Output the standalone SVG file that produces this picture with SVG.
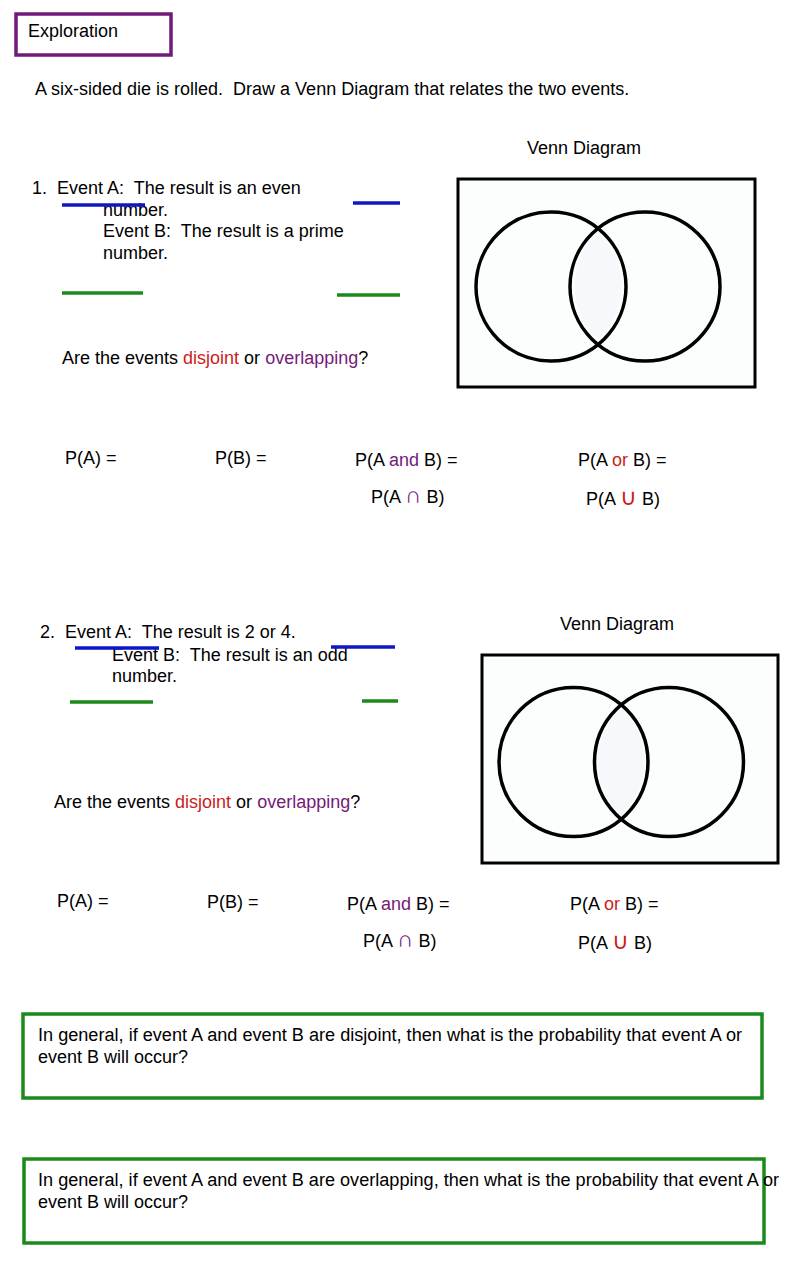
<svg xmlns="http://www.w3.org/2000/svg" width="800" height="1273" viewBox="0 0 800 1273" xml:space="preserve">
<style>
text{font-family:"Liberation Sans",Arial,sans-serif;font-size:18px;fill:#000;white-space:pre}
.red{fill:#cc1b1b}
.pur{fill:#741a78}
.sym{font-size:23px}
.box{fill:#fcfdfd;stroke:#000;stroke-width:3}
.circ{fill:none;stroke:#000;stroke-width:3.5}
.blue{stroke:#0d17c6;stroke-width:3.5}
.green{stroke:#1b8a1b;stroke-width:3.5}
.gbox{fill:#fff;stroke:#1b8a1b;stroke-width:3.5}
</style>
<rect width="800" height="1273" fill="#fff"/>
<g id="title">
<rect x="16" y="14" width="155" height="41" fill="#fff" stroke="#701a7a" stroke-width="3.5"/>
<text x="28" y="37">Exploration</text>
</g>
<g id="intro"><text x="35" y="95">A six-sided die is rolled.  Draw a Venn Diagram that relates the two events.</text></g>

<g id="q1">
<text x="32" y="194">1.  Event A:  The result is an even</text>
<text x="103" y="216">number.</text>
<text x="103" y="237">Event B:  The result is a prime</text>
<text x="103" y="259">number.</text>
<text x="62" y="364">Are the events <tspan class="red">disjoint</tspan> or <tspan class="pur">overlapping</tspan>?</text>
<text x="65" y="464">P(A) =</text>
<text x="215" y="464">P(B) =</text>
<text x="355" y="466">P(A <tspan class="pur">and</tspan> B) =</text>
<text x="578" y="466">P(A <tspan class="red">or</tspan> B) =</text>
<text x="371" y="503">P(A <tspan class="pur sym">∩</tspan> B)</text>
<text x="586" y="505">P(A <tspan class="red sym">∪</tspan> B)</text>
</g>
<g id="lines1">
<line class="blue" x1="62" y1="205" x2="145" y2="205"/>
<line class="blue" x1="353" y1="203" x2="400" y2="203"/>
<line class="green" x1="62" y1="293" x2="143" y2="293"/>
<line class="green" x1="337" y1="295" x2="400" y2="295"/>
</g>
<g id="venn1">
<text x="527" y="154">Venn Diagram</text>
<rect class="box" x="458" y="179" width="297" height="208"/>
<path d="M598,232 A75,74.5 0 0 1 598,340 A75,74.5 0 0 1 598,232 Z" fill="#f6f9fb"/>
<ellipse class="circ" cx="551" cy="286.5" rx="75" ry="74.5"/>
<ellipse class="circ" cx="645" cy="286.5" rx="75" ry="74.5"/>
</g>

<g id="q2">
<text x="40" y="638">2.  Event A:  The result is 2 or 4.</text>
<text x="112" y="661">Event B:  The result is an odd</text>
<text x="112" y="682">number.</text>
<text x="54" y="808">Are the events <tspan class="red">disjoint</tspan> or <tspan class="pur">overlapping</tspan>?</text>
<text x="57" y="907">P(A) =</text>
<text x="207" y="908">P(B) =</text>
<text x="347" y="910">P(A <tspan class="pur">and</tspan> B) =</text>
<text x="570" y="910">P(A <tspan class="red">or</tspan> B) =</text>
<text x="363" y="947">P(A <tspan class="pur sym">∩</tspan> B)</text>
<text x="578" y="949">P(A <tspan class="red sym">∪</tspan> B)</text>
</g>
<g id="lines2">
<line class="blue" x1="75" y1="648" x2="159" y2="648"/>
<line class="blue" x1="331" y1="647" x2="395" y2="647"/>
<line class="green" x1="70" y1="702" x2="153" y2="702"/>
<line class="green" x1="362" y1="701" x2="398" y2="701"/>
</g>
<g id="venn2">
<text x="560" y="630">Venn Diagram</text>
<rect class="box" x="482" y="655" width="296" height="208"/>
<path d="M621,708 A74.5,74.5 0 0 1 621,816 A74.5,74.5 0 0 1 621,708 Z" fill="#f6f9fb"/>
<ellipse class="circ" cx="573.5" cy="762" rx="74.5" ry="74.5"/>
<ellipse class="circ" cx="669" cy="762" rx="74.5" ry="74.5"/>
</g>

<g id="general1">
<rect class="gbox" x="23" y="1014" width="739" height="84"/>
<text x="38" y="1041" textLength="704" lengthAdjust="spacingAndGlyphs">In general, if event A and event B are disjoint, then what is the probability that event A or</text>
<text x="38" y="1063">event B will occur?</text>
</g>
<g id="general2">
<rect class="gbox" x="24" y="1159" width="740" height="84"/>
<text x="38" y="1186" textLength="741" lengthAdjust="spacingAndGlyphs">In general, if event A and event B are overlapping, then what is the probability that event A or</text>
<text x="38" y="1208">event B will occur?</text>
</g>
</svg>
